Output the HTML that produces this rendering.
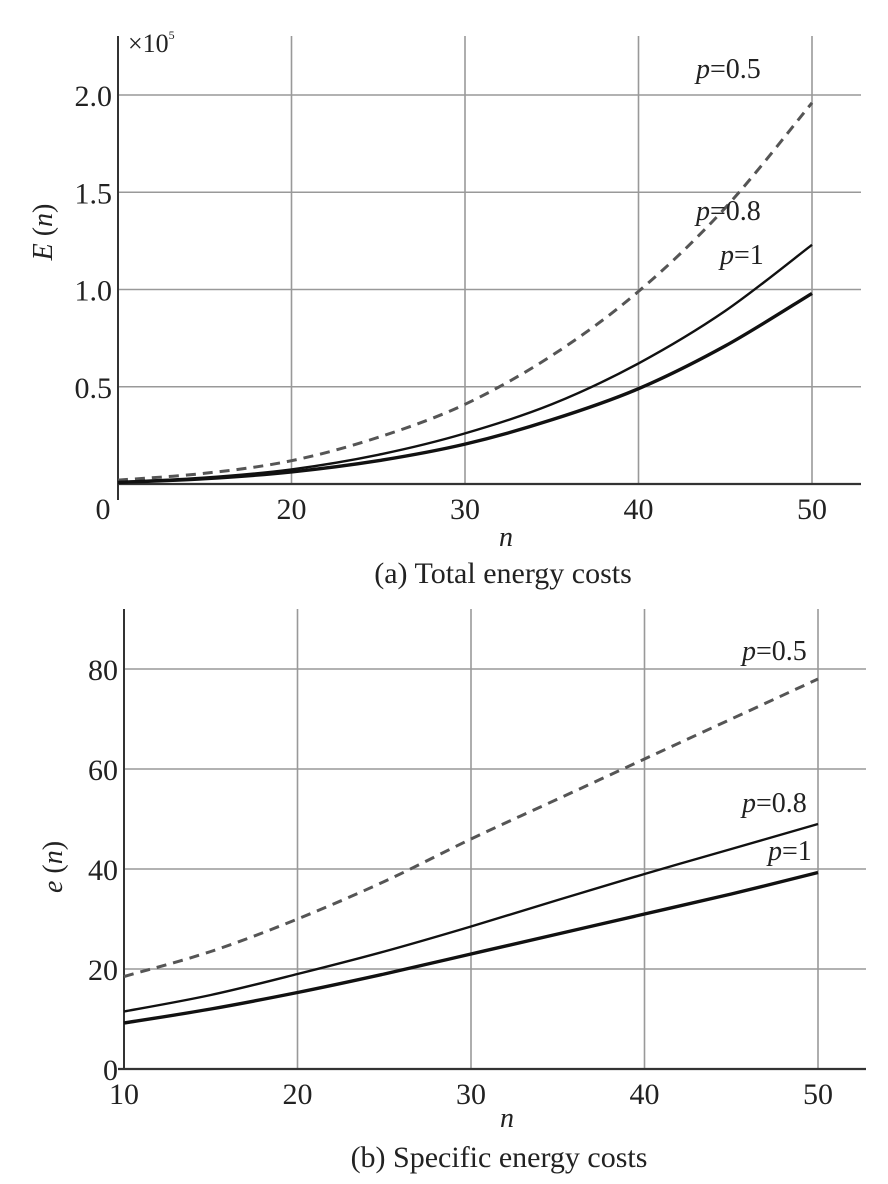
<!DOCTYPE html>
<html><head><meta charset="utf-8"><style>
body{margin:0;background:#fff}
svg{display:block}
text{font-family:"Liberation Serif",serif;fill:#222}
</style></head><body>
<svg width="888" height="1184" viewBox="0 0 888 1184" id="fig"></svg>
<script>
const nValues=[10,15,20,25,30,35,40,45,50];
const totalP05=[0.02,0.055,0.12,0.24,0.41,0.66,0.99,1.42,1.96];
const totalP08=[0.01,0.033,0.075,0.15,0.26,0.41,0.62,0.89,1.23];
const totalP1=[0.008,0.027,0.062,0.12,0.205,0.33,0.49,0.71,0.98];
const specP05=[18.5,23.5,30,37.5,46,54,62,70,78];
const specP08=[11.5,14.8,19,23.5,28.5,33.8,39,44,49];
const specP1=[9.2,12,15.3,19,23,27,31,35,39.3];
const xTicksTop=[20,30,40,50];
const yTicksTop=[0.5,1.0,1.5,2.0];
const yTickLabelsTop=["0.5","1.0","1.5","2.0"];
const xTicksBot=[10,20,30,40,50];
const yTicksBot=[0,20,40,60,80];

const NS="http://www.w3.org/2000/svg";
const svg=document.getElementById('fig');
function el(tag,attrs,parent,text){const e=document.createElementNS(NS,tag);for(const k in attrs)e.setAttribute(k,attrs[k]);if(text!==undefined)e.textContent=text;(parent||svg).appendChild(e);return e;}

function smooth(pts){
  let d='M'+pts[0][0].toFixed(1)+','+pts[0][1].toFixed(1);
  for(let i=0;i<pts.length-1;i++){
    const p0=pts[i-1]||pts[i],p1=pts[i],p2=pts[i+1],p3=pts[i+2]||p2;
    const c1=[p1[0]+(p2[0]-p0[0])/6,p1[1]+(p2[1]-p0[1])/6];
    const c2=[p2[0]-(p3[0]-p1[0])/6,p2[1]-(p3[1]-p1[1])/6];
    d+=' C'+c1[0].toFixed(1)+','+c1[1].toFixed(1)+' '+c2[0].toFixed(1)+','+c2[1].toFixed(1)+' '+p2[0].toFixed(1)+','+p2[1].toFixed(1);
  }
  return d;
}

function panel(cfg){
  const g=el('g',{});
  
  
  const xs=v=>cfg.x0+(v-10)*cfg.xk;
  const ys=v=>cfg.y0-v*cfg.yk;
  cfg.xt.forEach(t=>{
    if(t===10)return;
    const l=el('line',{x1:xs(t),x2:xs(t),y1:cfg.top,y2:cfg.y0,stroke:'#999','stroke-width':1.6},g);
    
    
  });
  cfg.yt.forEach(t=>{
    if(t===0)return;
    const l=el('line',{x1:cfg.x0,x2:cfg.right,y1:ys(t),y2:ys(t),stroke:'#999','stroke-width':1.6},g);
    
    
  });
  const ax=el('line',{x1:cfg.x0,x2:cfg.x0,y1:cfg.top,y2:cfg.y0+(cfg.axExt||0),stroke:'#333','stroke-width':2},g);
  
  const bx=el('line',{x1:cfg.x0-(cfg.bxExt||0),x2:cfg.right,y1:cfg.y0,y2:cfg.y0,stroke:'#333','stroke-width':2.2},g);
  
  cfg.xt.forEach(t=>{
    const tx=el('text',{x:xs(t),y:cfg.y0+35,'font-size':30,'text-anchor':'middle'},g,String(t));
    
  });
  cfg.yt.forEach((t,i)=>{
    const tx=el('text',{x:cfg.x0-6,y:ys(t)+11,'font-size':30,'text-anchor':'end'},g,cfg.ytl?cfg.ytl[i]:String(t));
    
  });
  cfg.series.forEach(s=>{
    const pts=s.data.map((v,i)=>[xs(nValues[i]),ys(v)]);
    const p=el('path',{d:smooth(pts),fill:'none',stroke:s.color,'stroke-width':s.w,'stroke-dasharray':s.dash||'none','stroke-linejoin':'round'},g);
    
  });
  return g;
}

panel({name:'chart-total-energy',x0:118,xk:17.35,y0:484,yk:194.5,top:36,right:861,xt:xTicksTop,yt:yTicksTop,ytl:yTickLabelsTop,axExt:16,
  series:[{name:'series-p0.5',data:totalP05,color:'#555',w:3,dash:'10 7'},{name:'series-p0.8',data:totalP08,color:'#111',w:2.4},{name:'series-p1',data:totalP1,color:'#111',w:3.4}]});
panel({name:'chart-specific-energy',x0:124,xk:17.35,y0:1069,yk:5,top:609,right:866,xt:xTicksBot,yt:yTicksBot,bxExt:6,
  series:[{name:'series-p0.5',data:specP05,color:'#555',w:3,dash:'10 7'},{name:'series-p0.8',data:specP08,color:'#111',w:2.4},{name:'series-p1',data:specP1,color:'#111',w:3.4}]});
</script>
<svg style="position:absolute;left:0;top:0" width="888" height="1184">
<g>
<text x="103" y="519" font-size="30" text-anchor="middle">0</text>
<text x="128" y="52" font-size="26">×10<tspan font-size="12" dy="-13">5</tspan></text>
<text transform="translate(52,232) rotate(-90)" font-size="28" text-anchor="middle"><tspan font-style="italic">E</tspan> (<tspan font-style="italic">n</tspan>)</text>
<text x="506" y="546" font-size="28" font-style="italic" text-anchor="middle">n</text>
<text x="503" y="583" font-size="30" text-anchor="middle">(a) Total energy costs</text>
<text x="696" y="78" font-size="28"><tspan font-style="italic">p</tspan>=0.5</text>
<text x="696" y="220" font-size="28"><tspan font-style="italic">p</tspan>=0.8</text>
<text x="720" y="264" font-size="28"><tspan font-style="italic">p</tspan>=1</text>
</g>
<g>
<text transform="translate(62,867) rotate(-90)" font-size="28" text-anchor="middle"><tspan font-style="italic">e</tspan> (<tspan font-style="italic">n</tspan>)</text>
<text x="507" y="1127" font-size="28" font-style="italic" text-anchor="middle">n</text>
<text x="499" y="1167" font-size="30" text-anchor="middle">(b) Specific energy costs</text>
<text x="742" y="660" font-size="28"><tspan font-style="italic">p</tspan>=0.5</text>
<text x="742" y="812" font-size="28"><tspan font-style="italic">p</tspan>=0.8</text>
<text x="768" y="860" font-size="28"><tspan font-style="italic">p</tspan>=1</text>
</g>
</svg>
</body></html>
